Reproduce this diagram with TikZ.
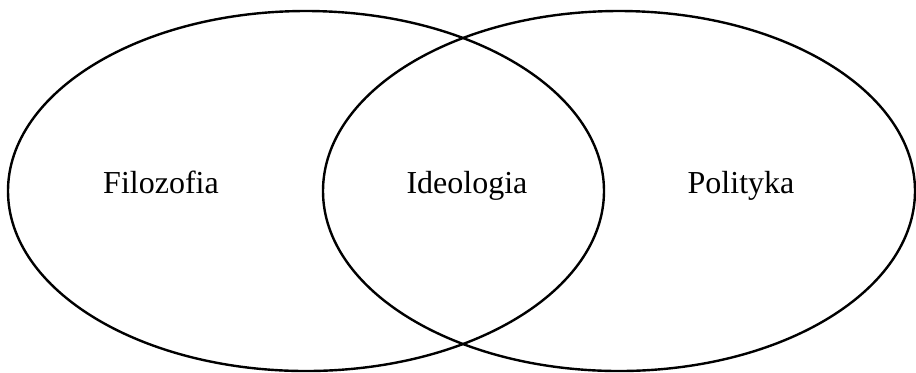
\documentclass[tikz,border=0pt]{standalone}
\usepackage{fontspec}
\setmainfont{Liberation Serif}
\usetikzlibrary{positioning}
\tikzset{
  setline/.style={draw, line width=1.2pt},
  lbl/.style={anchor=base, font=\fontsize{16}{19}\selectfont, inner sep=0pt},
}
\begin{document}
\begin{tikzpicture}[x=0.5pt, y=-0.5pt]

\useasboundingbox (0,0) rectangle (916,372);

% The two sets
\draw[setline] (306,191) ellipse [x radius=298, y radius=180];
\draw[setline] (619,191) ellipse [x radius=296, y radius=180];

% Labels
\node[lbl] (filozofia) at (161,193) {Filozofia};
\node[lbl] (ideologia) at (467,193) {Ideologia};
\node[lbl] (polityka) at (741,193) {Polityka};

\end{tikzpicture}
\end{document}
